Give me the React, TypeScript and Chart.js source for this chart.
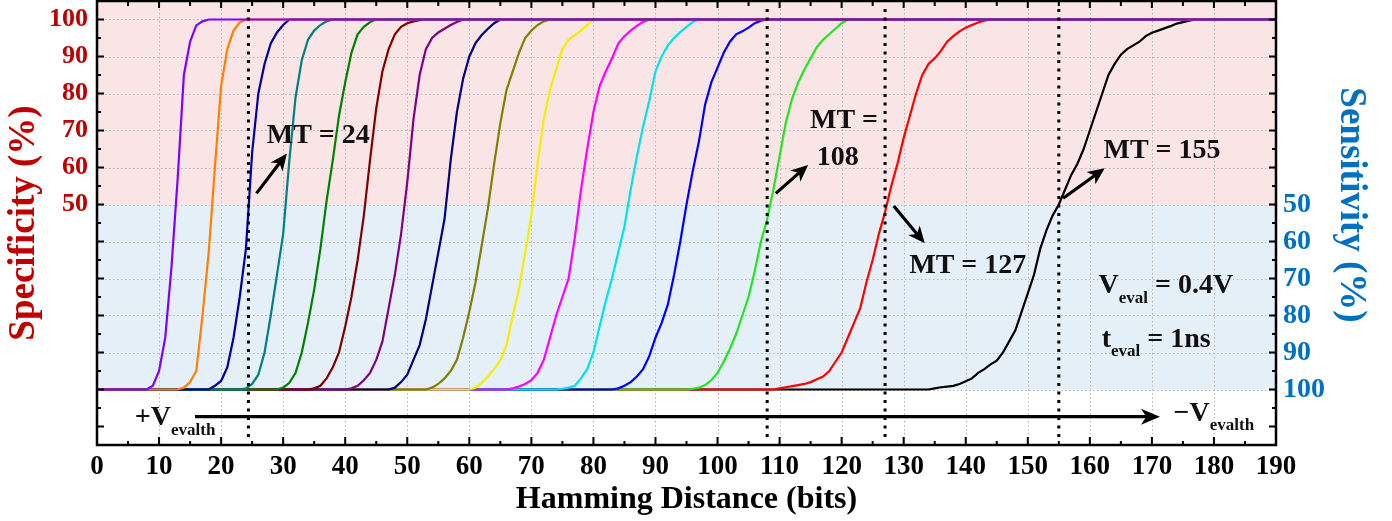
import React, { useEffect, useRef } from 'react';
import { Chart, registerables } from 'chart.js';

Chart.register(...registerables);

const FONT = "'Liberation Serif', 'Times New Roman', serif";

// ---- axes ----
const xMin = 0;
const xMax = 190;
const specMin = -15;
const specMax = 105;
const xTickValues = [0, 10, 20, 30, 40, 50, 60, 70, 80, 90, 100, 110, 120, 130, 140, 150, 160, 170, 180, 190];
const specTickValues = [50, 60, 70, 80, 90, 100];
const sensTickValues = [50, 60, 70, 80, 90, 100];
const gridXValues = [10, 20, 30, 40, 50, 60, 70, 80, 90, 100, 110, 120, 130, 140, 150, 160, 170, 180];
const gridYValues = [0, 10, 20, 30, 40, 50, 60, 70, 80, 90, 100];

// ---- series (Hamming distance vs specificity %) ----
const c1X = [0, 8, 9, 10, 11, 12, 13, 14, 15, 16, 17, 18, 190];
const c1Y = [0, 0, 1, 5, 14, 33, 57, 85, 94, 98.4, 99.5, 100, 100];
const c2X = [0, 13, 14, 15, 16, 17, 18, 19, 20, 21, 22, 23, 24, 190];
const c2Y = [0, 0, 0.5, 2, 5, 20, 37, 60, 82, 92, 97, 99.2, 100, 100];
const c3X = [0, 18, 19, 20, 21, 22, 23, 24, 25, 26, 27, 28, 29, 30, 31, 190];
const c3Y = [0, 0, 1, 2.3, 6, 14, 25, 38, 64, 80, 88, 93.5, 96.5, 98.5, 100, 100];
const c4X = [0, 23, 24, 25, 26, 27, 28, 29, 30, 31, 32, 33, 34, 35, 36, 37, 38, 190];
const c4Y = [0, 0, 0.3, 1.5, 4, 10, 20, 31, 42, 62, 79, 89, 94.5, 97, 98.5, 99.5, 100, 100];
const c5X = [0, 29, 30, 31, 32, 33, 34, 35, 36, 37, 38, 39, 40, 41, 42, 43, 44, 45, 190];
const c5Y = [0, 0, 0.5, 1.8, 4.5, 10, 18, 27, 38, 51, 62, 74, 83, 91, 96, 98, 99.3, 100, 100];
const c6X = [0, 34, 35, 36, 37, 38, 39, 40, 41, 42, 43, 44, 45, 46, 47, 48, 49, 50, 51, 52, 53, 190];
const c6Y = [0, 0, 0.3, 1, 3, 6, 10, 17, 25, 35, 47, 62, 76, 86, 92, 96, 98, 99, 99.5, 99.8, 100, 100];
const c7X = [0, 40, 41, 42, 43, 44, 45, 46, 47, 48, 49, 50, 51, 52, 53, 54, 55, 56, 57, 58, 59, 190];
const c7Y = [0, 0, 0.3, 1, 2.5, 4.5, 8, 13, 22, 31, 42, 56, 73, 85, 92, 95, 96.5, 97.5, 98.5, 99.3, 100, 100];
const c8X = [0, 47, 48, 49, 50, 51, 52, 53, 54, 55, 56, 57, 58, 59, 60, 61, 62, 63, 64, 65, 190];
const c8Y = [0, 0, 0.5, 2, 4, 8, 12, 19, 28, 37, 46, 62, 75, 84, 90, 93.6, 95.8, 97.5, 99, 100, 100];
const c9X = [0, 53, 54, 55, 56, 57, 58, 59, 60, 61, 62, 63, 64, 65, 66, 67, 68, 69, 70, 71, 72, 73, 190];
const c9Y = [0, 0, 0.5, 1.5, 3, 5, 8, 14, 21, 29, 39, 49, 61, 72, 81, 86, 91, 95, 97, 98.5, 99.5, 100, 100];
const c10X = [0, 60, 61, 62, 63, 64, 65, 66, 67, 68, 69, 70, 71, 72, 73, 74, 75, 76, 77, 78, 79, 80, 190];
const c10Y = [0, 0, 0.5, 1.8, 3.5, 5.5, 8, 12, 20, 27, 37, 47, 61, 73, 81, 86.5, 92, 94.5, 95.7, 97, 98.5, 100, 100];
const c11X = [0, 66, 67, 68, 69, 70, 71, 72, 73, 74, 75, 76, 77, 78, 79, 80, 81, 82, 83, 84, 85, 86, 87, 88, 89, 190];
const c11Y = [0, 0, 0.3, 0.8, 1.5, 2.5, 4.5, 8, 14, 20, 25, 30, 41, 54, 65, 75, 82, 86, 89.5, 93.5, 95.5, 97, 98.3, 99.3, 100, 100];
const c12X = [0, 74, 75, 76, 77, 78, 79, 80, 81, 82, 83, 84, 85, 86, 87, 88, 89, 90, 91, 92, 93, 94, 95, 96, 97, 190];
const c12Y = [0, 0, 0.2, 0.5, 1, 3, 5.5, 10, 17, 24, 30, 37, 44, 54, 63, 71, 78, 86, 90, 93, 95, 96.6, 98, 99.3, 100, 100];
const c13X = [0, 83, 84, 85, 86, 87, 88, 89, 90, 91, 92, 93, 94, 95, 96, 97, 98, 99, 100, 101, 102, 103, 104, 105, 106, 107, 108, 190];
const c13Y = [0, 0, 0.3, 1, 2, 3.5, 5.5, 9, 14, 18, 23, 31, 40, 50, 59, 67, 77, 83, 87, 91, 94, 96, 96.8, 97.8, 99, 99.7, 100, 100];
const c14X = [0, 95, 96, 97, 98, 99, 100, 101, 102, 103, 104, 105, 106, 107, 108, 109, 110, 111, 112, 113, 114, 115, 116, 117, 118, 119, 120, 121, 190];
const c14Y = [0, 0, 0.2, 0.5, 1.2, 2.5, 4.5, 7.5, 11, 15, 20, 25, 32, 40, 46, 54, 63, 72, 78.5, 83, 86.5, 89.5, 92.5, 94.5, 96, 97.5, 99, 100, 100];
const c15X = [0, 109, 110, 111, 112, 113, 114, 115, 116, 117, 118, 119, 120, 121, 122, 123, 124, 125, 126, 127, 128, 129, 130, 131, 132, 133, 134, 135, 136, 137, 138, 139, 140, 141, 142, 143, 144, 190];
const c15Y = [0, 0, 0.3, 0.6, 0.9, 1.2, 1.5, 2, 2.8, 3.5, 5, 7.5, 10, 14, 18, 22, 29, 35, 42, 48, 55, 61, 68, 74, 80, 85, 88, 89.5, 91.5, 94, 95.5, 96.8, 97.8, 98.5, 99.2, 99.7, 100, 100];
const c16X = [0, 134, 135, 136, 137, 138, 139, 140, 141, 142, 143, 144, 145, 146, 147, 148, 149, 150, 151, 152, 153, 154, 155, 156, 157, 158, 159, 160, 161, 162, 163, 164, 165, 166, 167, 168, 169, 170, 171, 172, 173, 174, 175, 176, 177, 190];
const c16Y = [0, 0, 0.3, 0.6, 0.8, 1, 1.5, 2.2, 3, 4.5, 5.5, 6.8, 7.8, 10, 13, 16, 21, 26, 31, 38, 43, 47, 50, 54, 58, 61, 65, 70, 75, 80, 85, 88, 90.5, 92, 93, 94, 95.5, 96.4, 97, 97.6, 98.2, 98.9, 99.3, 99.7, 100, 100];

const seriesX = [c1X, c2X, c3X, c4X, c5X, c6X, c7X, c8X, c9X, c10X, c11X, c12X, c13X, c14X, c15X, c16X];
const seriesY = [c1Y, c2Y, c3Y, c4Y, c5Y, c6Y, c7Y, c8Y, c9Y, c10Y, c11Y, c12Y, c13Y, c14Y, c15Y, c16Y];
const seriesColors = [
  '#8000ff', '#ff7f00', '#0000a0', '#008080', '#008000', '#800000', '#800080', '#000080',
  '#808000', '#f5ee00', '#ff00ff', '#00e2ee', '#0000ff', '#22e622', '#ff0000', '#000000',
];

// ---- annotations ----
const mtLines = [24.4, 108, 127, 155];
// text: [label, x, specificity value (baseline)]
const mtTexts: [string, number, number][] = [
  ['MT = 24', 27.35, 66.6],
  ['MT =', 114.9, 70.7],
  ['108', 116.0, 60.7],
  ['MT = 127', 130.9, 31.4],
  ['MT = 155', 162.2, 62.6],
];
// arrows: [x1, y1, x2, y2]
const mtArrows: [number, number, number, number][] = [
  [25.7, 53.0, 30.6, 63.8],
  [109.4, 53.0, 114.6, 60.7],
  [128.4, 49.6, 133.4, 39.5],
  [155.7, 51.7, 162.4, 59.8],
];

const TEXT_COLOR = '#111111';
const SPEC_COLOR = '#c00000';
const SENS_COLOR = '#0070c0';

function drawArrow(ctx: CanvasRenderingContext2D, x1: number, y1: number, x2: number, y2: number, lw: number, headLen: number, headHalf: number) {
  const ang = Math.atan2(y2 - y1, x2 - x1);
  const ca = Math.cos(ang), sa = Math.sin(ang);
  ctx.lineWidth = lw;
  ctx.lineCap = 'butt';
  ctx.setLineDash([]);
  ctx.beginPath();
  ctx.moveTo(x1, y1);
  ctx.lineTo(x2 - ca * headLen * 0.6, y2 - sa * headLen * 0.6);
  ctx.stroke();
  const bx = x2 - ca * headLen, by = y2 - sa * headLen;
  const nx = -sa, ny = ca;
  ctx.beginPath();
  ctx.moveTo(x2, y2);
  ctx.lineTo(bx + nx * headHalf, by + ny * headHalf);
  ctx.lineTo(x2 - ca * headLen * 0.72, y2 - sa * headLen * 0.72);
  ctx.lineTo(bx - nx * headHalf, by - ny * headHalf);
  ctx.closePath();
  ctx.fill();
}

function drawSubText(ctx: CanvasRenderingContext2D, x: number, y: number, main: string, sub: string, rest: string, mainSize: number, subSize: number, subDy: number) {
  ctx.textAlign = 'left';
  ctx.textBaseline = 'alphabetic';
  ctx.font = `bold ${mainSize}px ${FONT}`;
  ctx.fillText(main, x, y);
  let cx = x + ctx.measureText(main).width;
  ctx.font = `bold ${subSize}px ${FONT}`;
  ctx.fillText(sub, cx, y + subDy);
  cx += ctx.measureText(sub).width;
  if (rest) {
    ctx.font = `bold ${mainSize}px ${FONT}`;
    ctx.fillText(rest, cx, y);
  }
}

const overlayPlugin = {
  id: 'overlay',
  beforeDatasetsDraw(chart: any) {
    const { ctx, chartArea: a, scales } = chart;
    const xs = scales.x, ys = scales.y;
    ctx.save();
    const y50 = ys.getPixelForValue(50);
    const y0 = ys.getPixelForValue(0);
    ctx.fillStyle = '#f9e5e5';
    ctx.fillRect(a.left, a.top, a.right - a.left, y50 - a.top);
    ctx.fillStyle = '#e5eff8';
    ctx.fillRect(a.left, y50, a.right - a.left, y0 - y50);
    ctx.strokeStyle = '#b5b5b5';
    ctx.lineWidth = 1;
    ctx.setLineDash([1.5, 2.5]);
    for (const g of gridXValues) {
      const px = Math.round(xs.getPixelForValue(g)) + 0.5;
      ctx.beginPath();
      ctx.moveTo(px, a.top);
      ctx.lineTo(px, a.bottom);
      ctx.stroke();
    }
    for (const g of gridYValues) {
      const py = Math.round(ys.getPixelForValue(g)) + 0.5;
      ctx.beginPath();
      ctx.moveTo(a.left, py);
      ctx.lineTo(a.right, py);
      ctx.stroke();
    }
    ctx.restore();
  },
  afterDatasetsDraw(chart: any) {
    const { ctx, chartArea: a, scales } = chart;
    const xs = scales.x, ys = scales.y;
    const X = (v: number) => xs.getPixelForValue(v);
    const Y = (v: number) => ys.getPixelForValue(v);
    ctx.save();
    // MT dotted lines
    ctx.strokeStyle = '#000';
    ctx.lineWidth = 3;
    ctx.setLineDash([3, 5.5]);
    for (const m of mtLines) {
      const px = X(m);
      ctx.beginPath();
      ctx.moveTo(px, a.top + 8);
      ctx.lineTo(px, a.bottom - 4);
      ctx.stroke();
    }
    ctx.setLineDash([]);
    // arrows
    ctx.strokeStyle = '#000';
    ctx.fillStyle = '#000';
    for (const [x1, y1, x2, y2] of mtArrows) {
      drawArrow(ctx, X(x1), Y(y1), X(x2), Y(y2), 3.2, 17, 7.5);
    }
    // horizontal V arrow
    drawArrow(ctx, X(15.8), Y(-7.35), X(171.3), Y(-7.35), 3.2, 19, 8);
    // texts
    ctx.fillStyle = TEXT_COLOR;
    ctx.textAlign = 'left';
    ctx.textBaseline = 'alphabetic';
    ctx.font = `bold 28px ${FONT}`;
    for (const [t, x, v] of mtTexts) {
      ctx.fillText(t, X(x), Y(v));
    }
    drawSubText(ctx, X(161.4), Y(26.0), 'V', 'eval', ' = 0.4V', 28, 17, 9.4);
    drawSubText(ctx, X(161.9), Y(11.6), 't', 'eval', ' = 1ns', 28, 17, 9.3);
    drawSubText(ctx, X(6.1), Y(-9.6), '+V', 'evalth', '', 28, 17, 10);
    drawSubText(ctx, X(173.5), Y(-8.4), '\u2212V', 'evalth', '', 28, 17, 9.5);
    ctx.restore();
  },
  afterDraw(chart: any) {
    const { ctx, chartArea: a, scales } = chart;
    const xs = scales.x, ys = scales.y;
    ctx.save();
    ctx.strokeStyle = '#000';
    ctx.setLineDash([]);
    // inward ticks
    ctx.lineWidth = 2;
    for (let u = xMin; u <= xMax; u += 5) {
      const major = u % 10 === 0;
      const px = xs.getPixelForValue(u);
      const lb = major ? 8 : 4;
      const lt = major ? 7 : 5;
      ctx.beginPath();
      ctx.moveTo(px, a.bottom);
      ctx.lineTo(px, a.bottom - lb);
      ctx.moveTo(px, a.top);
      ctx.lineTo(px, a.top + lt);
      ctx.stroke();
    }
    for (let v = specMin; v <= specMax; v += 5) {
      const major = v % 10 === 0;
      const py = ys.getPixelForValue(v);
      const l = major ? 7 : 4;
      ctx.beginPath();
      ctx.moveTo(a.left, py);
      ctx.lineTo(a.left + l, py);
      ctx.moveTo(a.right, py);
      ctx.lineTo(a.right - l, py);
      ctx.stroke();
    }
    // frame
    ctx.lineWidth = 2.5;
    ctx.strokeRect(a.left, a.top, a.right - a.left, a.bottom - a.top);

    // axis titles
    ctx.fillStyle = '#000';
    ctx.font = `bold 32px ${FONT}`;
    ctx.textAlign = 'center';
    ctx.textBaseline = 'alphabetic';
    ctx.fillText('Hamming Distance (bits)', (a.left + a.right) / 2, 508);

    ctx.font = `bold 37px ${FONT}`;
    ctx.fillStyle = SPEC_COLOR;
    ctx.save();
    ctx.translate(34, (a.top + a.bottom) / 2);
    ctx.rotate(-Math.PI / 2);
    ctx.textAlign = 'center';
    ctx.fillText('Specificity (%)', 0, 0);
    ctx.restore();

    ctx.fillStyle = SENS_COLOR;
    ctx.save();
    ctx.translate(1341, 205);
    ctx.rotate(Math.PI / 2);
    ctx.textAlign = 'center';
    ctx.fillText('Sensitivity (%)', 0, 0);
    ctx.restore();

    ctx.restore();
  },
};

function fixPadding(s: any) {
  s.paddingTop = 0;
  s.paddingBottom = 0;
  s.paddingLeft = 0;
  s.paddingRight = 0;
}

export default function App() {
  const canvasRef = useRef<HTMLCanvasElement | null>(null);

  useEffect(() => {
    document.body.style.margin = '0';
    const canvas = canvasRef.current;
    if (!canvas) return;
    const datasets = seriesX.map((xs, i) => ({
      label: `MT${i + 1}`,
      data: xs.map((x, j) => ({ x, y: seriesY[i][j] })),
      borderColor: seriesColors[i],
      backgroundColor: seriesColors[i],
      borderWidth: 2.2,
      pointRadius: 0,
      tension: 0,
      fill: false,
      yAxisID: 'y',
    }));
    const chart = new Chart(canvas, {
      type: 'line',
      data: { datasets },
      options: {
        animation: false,
        responsive: false,
        maintainAspectRatio: false,
        devicePixelRatio: 1,
        layout: { padding: { top: 1, left: 0, right: 0, bottom: 0 } },
        plugins: { legend: { display: false }, tooltip: { enabled: false } },
        scales: {
          x: {
            type: 'linear',
            position: 'bottom',
            min: xMin,
            max: xMax,
            afterBuildTicks: (s: any) => { s.ticks = xTickValues.map((v) => ({ value: v })); },
            afterFit: (s: any) => { s.height = 76; fixPadding(s); },
            ticks: {
              autoSkip: false,
              maxRotation: 0,
              padding: 6,
              color: '#000',
              font: { family: FONT, size: 27, weight: 'bold' },
            },
            grid: { display: false, drawTicks: false },
            border: { display: false },
          },
          y: {
            type: 'linear',
            position: 'left',
            min: specMin,
            max: specMax,
            afterBuildTicks: (s: any) => { s.ticks = specTickValues.map((v) => ({ value: v })); },
            afterFit: (s: any) => { s.width = 97; fixPadding(s); },
            ticks: {
              padding: 9,
              color: SPEC_COLOR,
              font: { family: FONT, size: 26, weight: 'bold' },
            },
            grid: { display: false, drawTicks: false },
            border: { display: false },
          },
          y2: {
            type: 'linear',
            position: 'right',
            reverse: true,
            min: 100 - specMax,
            max: 100 - specMin,
            afterBuildTicks: (s: any) => { s.ticks = sensTickValues.map((v) => ({ value: v })); },
            afterFit: (s: any) => { s.width = 116; fixPadding(s); },
            ticks: {
              padding: 7,
              color: SENS_COLOR,
              font: { family: FONT, size: 28, weight: 'bold' },
            },
            grid: { display: false, drawTicks: false },
            border: { display: false },
          },
        },
      },
      plugins: [overlayPlugin],
    } as any);
    return () => chart.destroy();
  }, []);

  return (
    <div style={{ width: 1392, height: 521 }}>
      <canvas ref={canvasRef} width={1392} height={521} style={{ display: 'block' }} />
    </div>
  );
}
